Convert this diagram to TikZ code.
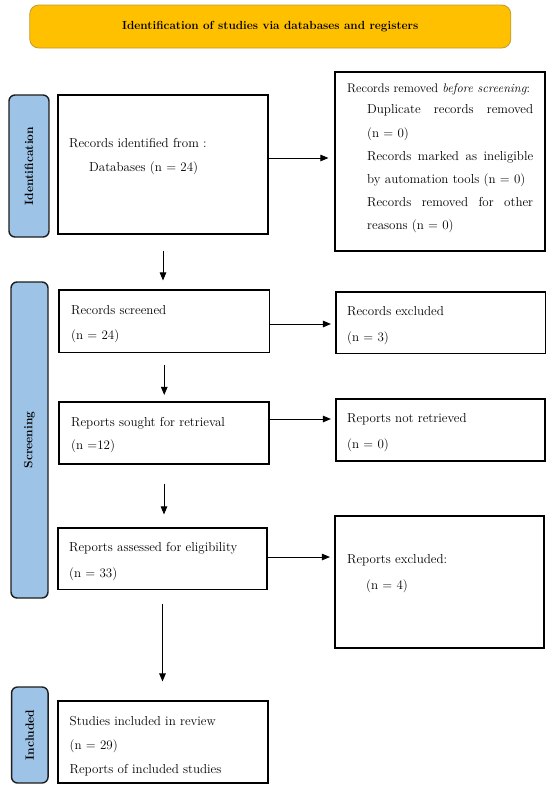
\documentclass[tikz,border=0pt]{standalone}
\usetikzlibrary{arrows.meta}
\definecolor{bannerfill}{HTML}{FFC000}
\definecolor{bannerdraw}{HTML}{C49A2C}
\definecolor{barfill}{HTML}{9DC3E6}
\definecolor{bardraw}{HTML}{1E1E1E}
\begin{document}
\begin{tikzpicture}[x=1pt,y=-1pt,
  box/.style={draw=black,line width=1.1pt,inner sep=0pt},
  bar/.style={draw=bardraw,fill=barfill,line width=1.4pt,rounded corners=6pt,inner sep=0pt},
  barlabel/.style={rotate=90,inner sep=0pt,font=\bfseries\fontsize{12}{14}\selectfont},
  txt/.style={anchor=base west,inner sep=0pt,font=\fontsize{13}{15}\selectfont},
  arr/.style={line width=0.9pt,-{Triangle[length=8pt,width=6.5pt]}}]
\useasboundingbox (0,0) rectangle (550,785);
\fill[white] (0,0) rectangle (550,785);
% banner
\node[draw=bannerdraw,fill=bannerfill,line width=0.8pt,rounded corners=9pt,minimum width=481pt,minimum height=43pt,inner sep=0pt] (banner) at (270.25,26.5) {};
\node[inner sep=0pt,font=\bfseries\fontsize{11.75}{14}\selectfont] (bannertxt) at (banner.center) {Identification of studies via databases and registers};
% side bars
\node[bar,minimum width=40pt,minimum height=142pt] (idbar) at (29,166) {};
\node[barlabel] (idlab) at (idbar.center) {Identification};
\node[bar,minimum width=37pt,minimum height=316pt] (scrbar) at (29.5,440) {};
\node[barlabel] (scrlab) at (scrbar.center) {Screening};
\node[bar,minimum width=36.5pt,minimum height=96pt] (incbar) at (29.8,735) {};
\node[barlabel] (inclab) at (incbar.center) {Included};
% boxes
\node[box,minimum width=210pt,minimum height=139pt] (idbox) at (163,164.5) {};
\node[box,minimum width=210pt,minimum height=179pt] (removed) at (440,161.5) {};
\node[box,minimum width=210.5pt,minimum height=62.5pt] (screened) at (164.25,321.25) {};
\node[box,minimum width=209.5pt,minimum height=61.5pt] (excluded) at (440.75,322.75) {};
\node[box,minimum width=210pt,minimum height=62pt] (sought) at (164,433) {};
\node[box,minimum width=209pt,minimum height=62pt] (notretr) at (440.5,430) {};
\node[box,minimum width=209pt,minimum height=61.5pt] (assessed) at (162.5,558.75) {};
\node[box,minimum width=209pt,minimum height=132pt] (repexcl) at (439.5,582) {};
\node[box,minimum width=210pt,minimum height=82pt] (studies) at (163,742) {};
% texts
\node[txt] (t1a) at (69,147.5) {Records identified from :};
\node[txt] (t1b) at (89,171.5) {Databases (n = 24)};
\node[txt,font=\fontsize{12.5}{15}\selectfont] (t2a) at (347,92) {Records removed \textit{before screening}:};
\node[txt] (t2b) at (367,113.5) {\makebox[166pt][s]{Duplicate records removed}};
\node[txt] (t2c) at (367,137.5) {(n = 0)};
\node[txt] (t2d) at (367,160.5) {\makebox[166pt][s]{Records marked as ineligible}};
\node[txt] (t2e) at (367,183.5) {by automation tools (n = 0)};
\node[txt] (t2f) at (367,206.5) {\makebox[166pt][s]{Records removed for other}};
\node[txt] (t2g) at (367,229.5) {reasons (n = 0)};
\node[txt] (t3a) at (71,314.5) {Records screened};
\node[txt] (t3b) at (71,339.5) {(n = 24)};
\node[txt] (t4a) at (347,315.5) {Records excluded};
\node[txt] (t4b) at (347,341.5) {(n = 3)};
\node[txt] (t5a) at (71,426) {Reports sought for retrieval};
\node[txt] (t5b) at (71,449.5) {(n =12)};
\node[txt] (t6a) at (347,422.5) {Reports not retrieved};
\node[txt] (t6b) at (347,448.5) {(n = 0)};
\node[txt] (t7a) at (69,551.5) {Reports assessed for eligibility};
\node[txt] (t7b) at (69,577.5) {(n = 33)};
\node[txt] (t8a) at (347,563.5) {Reports excluded:};
\node[txt] (t8b) at (366,589.5) {(n = 4)};
\node[txt] (t9a) at (69.5,725) {Studies included in review};
\node[txt] (t9b) at (69.5,749) {(n = 29)};
\node[txt] (t9c) at (69.5,773) {Reports of included studies};
% horizontal arrows
\coordinate (h1) at ([yshift=6.5pt]idbox.east);
\draw[arr,shorten >=6pt] (h1) -- (h1 -| removed.west);
\coordinate (h2) at ([yshift=-2.75pt]screened.east);
\draw[arr,shorten >=4.5pt] (h2) -- (h2 -| excluded.west);
\coordinate (h3) at ([yshift=14pt]sought.east);
\draw[arr,shorten >=4.5pt] (h3) -- (h3 -| notretr.west);
\coordinate (h4) at ([yshift=1.75pt]assessed.east);
\draw[arr,shorten >=4.5pt] (h4) -- (h4 -| repexcl.west);
% vertical arrows
\draw[arr,shorten <=16pt,shorten >=9pt] (idbox.south) -- (idbox.south |- screened.north);
\draw[arr,shorten <=11.5pt,shorten >=6.5pt] (screened.south) -- (screened.south |- sought.north);
\draw[arr,shorten <=19pt,shorten >=13pt] (sought.south) -- (sought.south |- assessed.north);
\draw[arr,shorten <=14pt,shorten >=19pt] (assessed.south) -- (assessed.south |- studies.north);
\end{tikzpicture}
\end{document}
